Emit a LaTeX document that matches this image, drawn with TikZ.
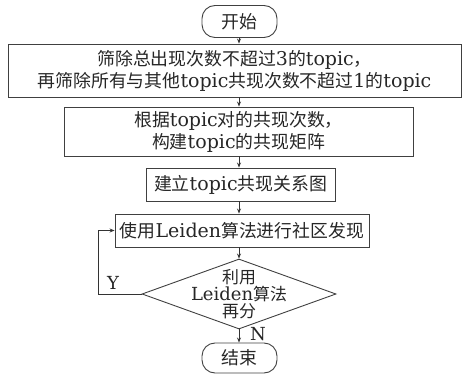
\documentclass[tikz,border=0pt]{standalone}
\usepackage{fontspec}
\setmainfont{DejaVu Serif}
\newfontfamily\cjk[Scale=0.94]{Noto Sans CJK SC}
\newcommand{\zh}[1]{{\cjk #1}}
\usetikzlibrary{shapes.geometric,arrows.meta}
\begin{document}
\begin{tikzpicture}[x=1pt,y=-1pt,
  every node/.style={font=\fontsize{19}{22}\selectfont, text=black!85, inner sep=0pt, align=center},
  box/.style={draw=black!75, line width=0.9pt, rectangle, minimum height=33pt},
  term/.style={draw=black!75, line width=0.9pt, rectangle, rounded corners=13pt, minimum width=75pt, minimum height=32pt},
  decide/.style={draw=black!75, line width=0.9pt, diamond, minimum width=194pt, minimum height=70pt},
  flow/.style={draw=black!80, line width=0.9pt, -{Stealth[length=5pt,width=4pt]}},
  lbl/.style={font=\fontsize{18}{20}\selectfont}]
\useasboundingbox (0,0) rectangle (463,374);

\node[term] (start) at (239.5,21.5) {\zh{开始}};
\node[box, minimum width=453pt, minimum height=53pt] (filter) at (234.5,70.5)
  {\zh{筛除总出现次数不超过}3\zh{的}topic\zh{，}\\
   \zh{再筛除所有与其他}topic\zh{共现次数不超过}1\zh{的}topic};
\node[box, minimum width=349pt, minimum height=49pt] (matrix) at (238.5,131.5)
  {\zh{根据}topic\zh{对的共现次数，}\\ \zh{构建}topic\zh{的共现矩阵}};
\node[box, minimum width=189pt] (graph) at (240.5,184.5) {\zh{建立}topic\zh{共现关系图}};
\node[box, minimum width=254pt] (leiden) at (242,230.5) {\zh{使用}Leiden\zh{算法进行社区发现}};
\node[decide] (check) at (239,294) {};
\node[font=\fontsize{18}{17}\selectfont] (checktext) at (check.center) {\zh{利用}\\ Leiden\zh{算法}\\ \zh{再分}};
\node[term, minimum height=30pt] (stop) at (239.5,358) {\zh{结束}};

\coordinate (ax) at (239,0);
\draw[flow] (ax |- start.south) -- (ax |- filter.north);
\draw[flow] (ax |- filter.south) -- (ax |- matrix.north);
\draw[flow] (ax |- matrix.south) -- (ax |- graph.north);
\draw[flow] (ax |- graph.south) -- (ax |- leiden.north);
\draw[flow] (ax |- leiden.south) -- (check.north);
\draw[flow] (check.south) -- (ax |- stop.north);

\coordinate (loopx) at (98,0);
\draw[flow] (check.west) -- (loopx |- check.west) -- (loopx |- leiden.west) -- (leiden.west);

\node[lbl] (ylbl) at (113,283) {Y};
\node[lbl] (nlbl) at (258,334) {N};
\end{tikzpicture}
\end{document}
